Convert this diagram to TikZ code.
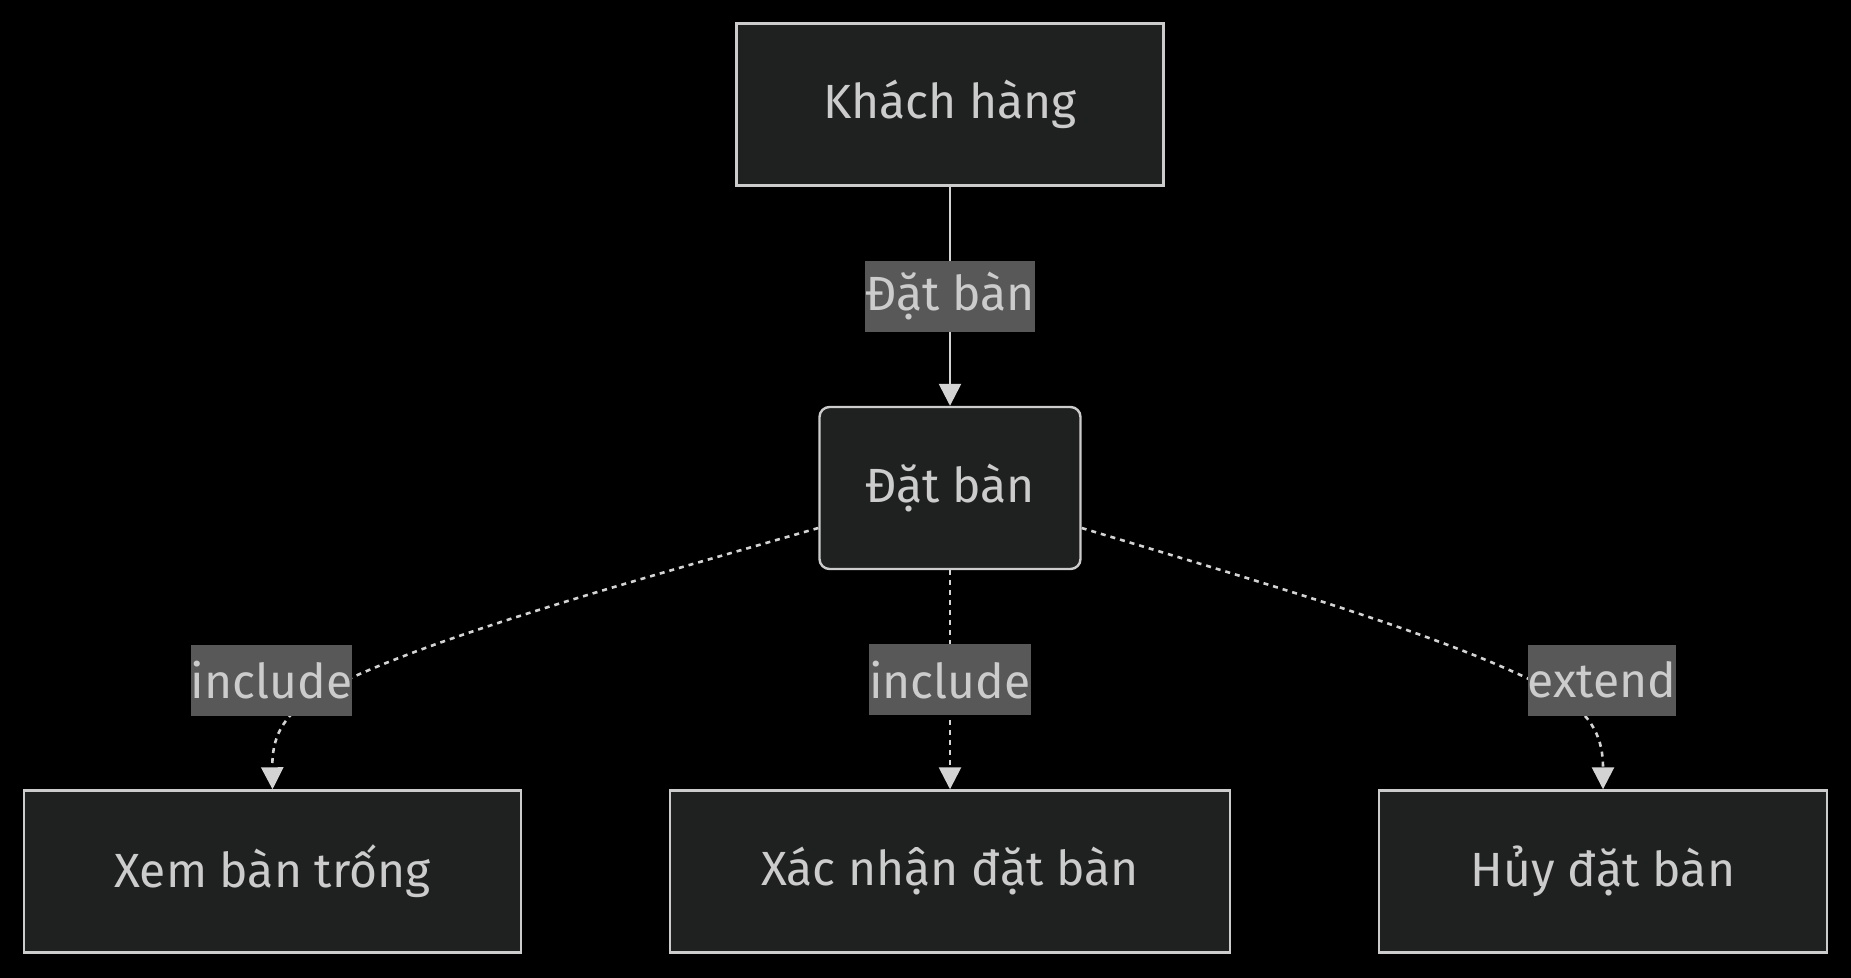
\documentclass[tikz,border=0pt]{standalone}
\usepackage{fontspec}
\setmainfont{Fira Sans}
\usetikzlibrary{arrows.meta}
\definecolor{boxbg}{HTML}{1F2020}
\definecolor{boxline}{HTML}{CCCCCC}
\definecolor{lblbg}{HTML}{585858}
\definecolor{txt}{HTML}{CCCCCC}
\definecolor{edgeline}{HTML}{D3D3D3}
\begin{document}
\begin{tikzpicture}[x=0.5pt, y=-0.5pt,
    box/.style={draw=boxline, fill=boxbg, line width=1.2pt, text=txt,
      minimum height=81pt, inner sep=0pt, font=\fontsize{24}{28}\selectfont},
    lbl/.style={fill=lblbg, text=txt, inner xsep=0pt, inner ysep=0pt,
      minimum height=35.5pt, font=\fontsize{24}{28}\selectfont},
    link/.style={draw=edgeline, line width=1.3pt,
      -{Triangle[length=11pt,width=11pt]}},
    dashlink/.style={link, dash pattern=on 2.5pt off 2.5pt}]
  \fill[black] (0,0) rectangle (1851,978);

  \node[box, minimum width=213.5pt] (khach) at (950,104.5) {Khách hàng};
  \node[box, minimum width=130.5pt, rounded corners=5pt] (dat) at (950,488) {Đặt bàn};
  \node[box, minimum width=248.5pt] (xem) at (272.5,871.5) {Xem bàn trống};
  \node[box, minimum width=280pt] (xac) at (950,871.5) {Xác nhận đặt bàn};
  \node[box, minimum width=224pt] (huy) at (1603,871.5) {Hủy đặt bàn};

  \draw[link] (khach) -- node[lbl] {Đặt bàn} (dat);
  \draw[dashlink] (dat) -- node[lbl] {include} (xac);

  \coordinate (bendl) at (320,693);
  \coordinate (bendr) at (1556,693);
  \draw[dashlink] ([yshift=-20pt]dat.west)
    .. controls (620,585) and (420,640) .. (bendl)
    .. controls (280,715) and (272,740) .. (xem.north);
  \draw[dashlink] ([yshift=-20pt]dat.east)
    .. controls (1270,585) and (1461,640) .. (bendr)
    .. controls (1594,715) and (1603,740) .. (huy.north);
  \node[lbl] (incl) at (271.5,680) {include};
  \node[lbl] (ext) at (1602,680) {extend};
\end{tikzpicture}
\end{document}
